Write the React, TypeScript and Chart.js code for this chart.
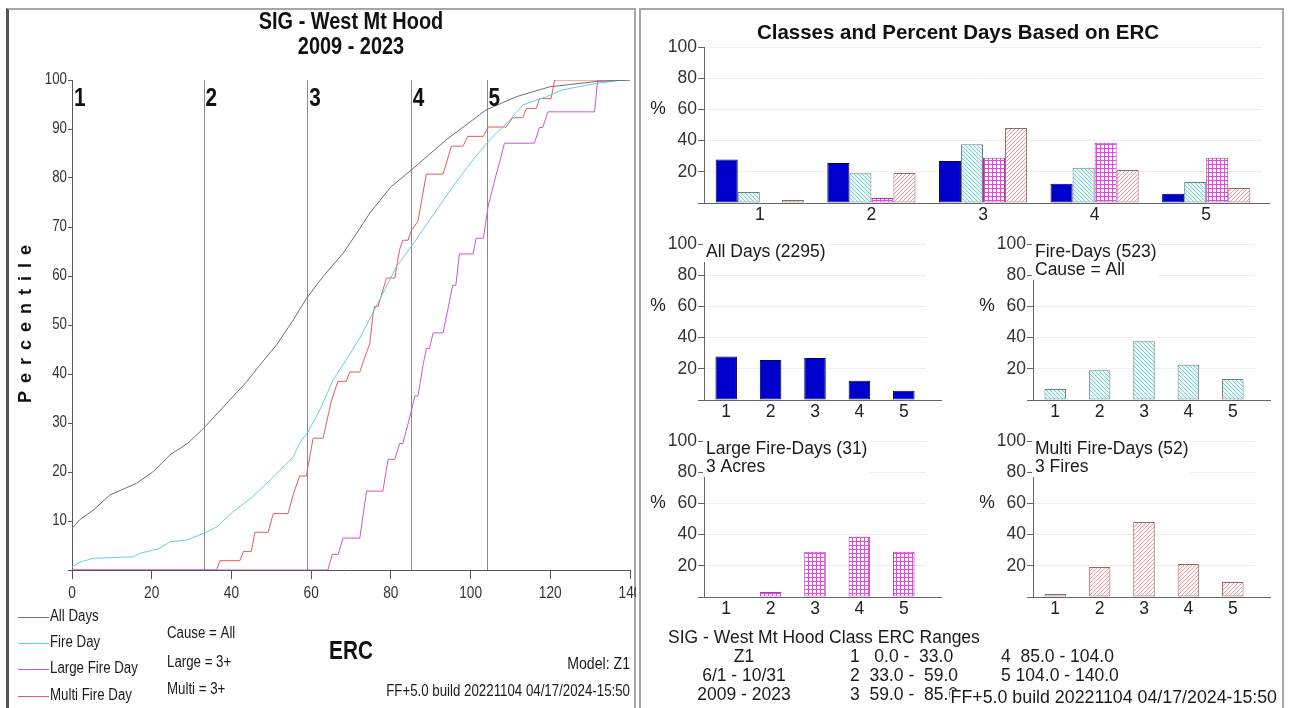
import React, { useEffect, useRef } from "react";
import { Chart, registerables } from "chart.js";

Chart.register(...registerables);

const SANS = '"Liberation Sans", Arial, Helvetica, sans-serif';
// horizontal squeeze used to get a condensed face out of the regular sans
const NARROW_SCALE = 0.83;
const RIGHT_FONT = 17.5;

// ---------- cumulative percentile of ERC ----------
const ercTicks = [0, 20, 40, 60, 80, 100, 120, 140];
const percentileTicks = [0, 10, 20, 30, 40, 50, 60, 70, 80, 90, 100];
const classBreaks = [0, 33, 59, 85, 104];
const ercMax = 140;
const classNames = ["1", "2", "3", "4", "5"];

const seriesNames = ["All Days", "Fire Day", "Large Fire Day", "Multi Fire Day"];
const seriesColors = ["#6f6f6f", "#62d2d4", "#cf52d3", "#e25c5c"];

const allDaysErc = [0, 2, 5.3, 9.5, 16.2, 20.4, 24.6, 29.1, 33, 38.8, 43.8, 47.1, 51.3, 55.5, 58.8, 63, 68, 72.2, 74.7, 80, 85.1, 93.9, 103.9, 111.5, 119.8, 131.5, 140];
const allDaysPct = [8.5, 10.3, 12.2, 15.3, 17.7, 20.1, 23.5, 25.9, 28.9, 34, 38.4, 41.8, 45.9, 51, 55.4, 59.9, 64.6, 69.7, 72.8, 78.2, 81.6, 87.8, 93.9, 96.6, 98.6, 99.7, 100];

const fireDayErc = [0, 2, 5.3, 15.4, 17, 22, 24.6, 28.7, 33.1, 36.3, 40.4, 45.4, 50.5, 55.5, 57.1, 59.2, 62.2, 65.5, 68.8, 72.2, 74.7, 81.4, 85.1, 89.7, 95.5, 100.6, 104.8, 109.8, 113.1, 119, 123.1, 131.5, 137.3, 140];
const fireDayPct = [0.6, 1.6, 2.4, 2.7, 3.4, 4.4, 5.8, 6.1, 7.5, 8.8, 11.9, 15, 19, 23.1, 25.9, 28.2, 32.7, 38.8, 42.9, 47.3, 51.2, 61.9, 66, 71.4, 78.2, 83.7, 87.8, 91.8, 94.9, 96.6, 98, 99.3, 99.9, 100];

const largeFireErc = [0, 64.2, 65.3, 66.8, 68, 72.2, 73.9, 78, 79.3, 81, 82.2, 83, 85.1, 86, 86.8, 88.1, 88.9, 89.7, 90.6, 93.1, 93.9, 94.7, 95.5, 96.3, 97.2, 100.6, 101.4, 103.2, 104.4, 106.4, 107.5, 108.5, 116, 117.3, 118.1, 119.4, 131.1, 131.9, 140];
const largeFirePct = [0, 0, 3.2, 3.2, 6.5, 6.5, 16.1, 16.1, 22.6, 22.6, 25.8, 25.8, 32.3, 35.5, 35.5, 41.9, 45.2, 45.2, 48.4, 48.4, 51.6, 54.8, 58.1, 58.1, 64.5, 64.5, 67.7, 67.7, 74.2, 80.6, 83.9, 87.1, 87.1, 90.3, 90.3, 93.5, 93.5, 100, 100];

const multiFireErc = [0, 36.3, 37.1, 42.1, 43, 45, 45.9, 49.2, 50.5, 54.2, 55.5, 57.1, 58.8, 60.5, 63, 65.1, 66.7, 68.8, 69.7, 72.2, 73, 74.7, 75.5, 75.9, 76.8, 78.9, 81, 82.2, 83, 84.3, 85.1, 86.8, 88.9, 93.1, 95.2, 98.1, 99.3, 103.2, 104.4, 108.9, 110.6, 113.1, 114, 116.5, 117.3, 120.2, 121.1, 140];
const multiFirePct = [0, 0, 1.9, 1.9, 3.8, 3.8, 7.7, 7.7, 11.5, 11.5, 15.4, 19.2, 19.2, 26.9, 26.9, 34.6, 38.5, 38.5, 40.4, 40.4, 42.3, 46.2, 51.9, 53.8, 53.8, 59.6, 59.6, 65.4, 67.3, 67.3, 69.2, 71.2, 80.8, 80.8, 86.5, 86.5, 88.5, 88.5, 90.4, 90.4, 92.3, 92.3, 94.2, 94.2, 96.2, 96.2, 100, 100];

// ---------- percent of days in each ERC class ----------
const percentTicks = [0, 20, 40, 60, 80, 100];
const pctAllDays = [27.9, 25.7, 27.0, 12.4, 6.0];
const pctFireDays = [7.1, 19.1, 37.7, 22.6, 13.4];
const pctLargeFire = [0, 3.2, 29.0, 38.7, 29.0];
const pctMultiFire = [1.9, 19.2, 48.1, 21.2, 9.6];

const panelTitles = [
  ["All Days (2295)"],
  ["Fire-Days (523)", "Cause = All"],
  ["Large Fire-Days (31)", "3 Acres"],
  ["Multi Fire-Days (52)", "3 Fires"],
];

// ---------- page layout ----------
const LEFT_BOX = { x: 0, y: 0, w: 636, h: 708 };
const LEFT_AREA = { left: 72, top: 80, right: 630, bottom: 570 };
const TOP_BOX = { x: 640, y: 0, w: 650, h: 228 };
const TOP_AREA = { left: 704, top: 47, right: 1262, bottom: 203 };
const SMALL_BOXES = [
  { x: 640, y: 228, w: 320, h: 200 },
  { x: 960, y: 228, w: 325, h: 200 },
  { x: 640, y: 425, w: 320, h: 200 },
  { x: 960, y: 425, w: 325, h: 200 },
];
const SMALL_AREAS = [
  { left: 704, top: 244, right: 926, bottom: 400 },
  { left: 1033, top: 244, right: 1255, bottom: 400 },
  { left: 704, top: 441, right: 926, bottom: 597 },
  { left: 1033, top: 441, right: 1255, bottom: 597 },
];
const NOTE_BOX = { x: 640, y: 612, w: 645, h: 96 };

type Box = { x: number; y: number; w: number; h: number };
type Area = { left: number; top: number; right: number; bottom: number };

function frame(box: Box, area: Area, xAxisH: number) {
  return {
    padding: {
      left: 0,
      top: area.top - box.y,
      right: box.x + box.w - area.right,
      bottom: box.y + box.h - area.bottom - xAxisH,
    },
    yWidth: area.left - box.x,
  };
}

function text(ctx: CanvasRenderingContext2D, str: string, x: number, y: number, font: string, align: CanvasTextAlign = "left", color = "#1a1a1a") {
  ctx.save();
  ctx.font = font;
  ctx.fillStyle = color;
  ctx.textAlign = align;
  ctx.textBaseline = "middle";
  ctx.fillText(str, x, y);
  ctx.restore();
}

// condensed text: regular sans squeezed horizontally
function ntext(ctx: CanvasRenderingContext2D, str: string, x: number, y: number, size: number, bold = false, align: CanvasTextAlign = "left", color = "#1a1a1a") {
  ctx.save();
  ctx.translate(x, y);
  ctx.scale(NARROW_SCALE, 1);
  ctx.font = `${bold ? "bold " : ""}${size}px ${SANS}`;
  ctx.fillStyle = color;
  ctx.textAlign = align;
  ctx.textBaseline = "middle";
  ctx.fillText(str, 0, 0);
  ctx.restore();
}

function hLine(ctx: CanvasRenderingContext2D, x1: number, x2: number, y: number, color: string) {
  ctx.save();
  ctx.strokeStyle = color;
  ctx.lineWidth = 1;
  ctx.beginPath();
  ctx.moveTo(x1, y);
  ctx.lineTo(x2, y);
  ctx.stroke();
  ctx.restore();
}

function makePattern(size: number, bg: string, stroke: string, kind: "back" | "fwd" | "grid") {
  const c = document.createElement("canvas");
  c.width = size;
  c.height = size;
  const g = c.getContext("2d")!;
  g.fillStyle = bg;
  g.fillRect(0, 0, size, size);
  g.strokeStyle = stroke;
  g.lineWidth = 1;
  g.beginPath();
  if (kind === "grid") {
    g.moveTo(0, 0.5);
    g.lineTo(size, 0.5);
    g.moveTo(0.5, 0);
    g.lineTo(0.5, size);
  } else if (kind === "back") {
    g.moveTo(-1, -1);
    g.lineTo(size + 1, size + 1);
    g.moveTo(-1, size - 1);
    g.lineTo(1, size + 1);
    g.moveTo(size - 1, -1);
    g.lineTo(size + 1, 1);
  } else {
    g.moveTo(-1, size + 1);
    g.lineTo(size + 1, -1);
    g.moveTo(-1, 1);
    g.lineTo(1, -1);
    g.moveTo(size - 1, size + 1);
    g.lineTo(size + 1, size - 1);
  }
  g.stroke();
  return g.createPattern(c, "repeat")!;
}

const pts = (xs: number[], ys: number[]) => xs.map((x, i) => ({ x, y: ys[i] }));

function percentileConfig(): any {
  const xAxisH = 30;
  const f = frame(LEFT_BOX, LEFT_AREA, xAxisH);
  const curves = [
    pts(allDaysErc, allDaysPct),
    pts(fireDayErc, fireDayPct),
    pts(largeFireErc, largeFirePct),
    pts(multiFireErc, multiFirePct),
  ];
  const decor = {
    id: "ercDecor",
    beforeDatasetsDraw(chart: any) {
      const ctx = chart.ctx;
      const xs = chart.scales.x;
      const ys = chart.scales.y;
      const top = ys.getPixelForValue(100);
      const bottom = ys.getPixelForValue(0);
      ctx.save();
      ctx.strokeStyle = "#8a8a8a";
      ctx.lineWidth = 1;
      classBreaks.slice(1).forEach((b) => {
        const px = Math.round(xs.getPixelForValue(b)) + 0.5;
        ctx.beginPath();
        ctx.moveTo(px, top);
        ctx.lineTo(px, bottom);
        ctx.stroke();
      });
      ctx.restore();
    },
    afterDraw(chart: any) {
      const ctx = chart.ctx;
      const xs = chart.scales.x;
      const ys = chart.scales.y;
      const ca = chart.chartArea;
      // axis tick labels
      ercTicks.forEach((v) => ntext(ctx, String(v), xs.getPixelForValue(v), ca.bottom + 23, 16.5, false, "center", "#333"));
      percentileTicks.forEach((v) => {
        if (v > 0) ntext(ctx, String(v), ca.left - 5, ys.getPixelForValue(v), 16, false, "right", "#333");
      });
      ntext(ctx, "SIG - West Mt Hood", 351, 22, 24, true, "center", "#111");
      ntext(ctx, "2009 - 2023", 351, 47, 24, true, "center", "#111");
      classBreaks.forEach((b, i) => {
        ntext(ctx, classNames[i], xs.getPixelForValue(b) + 2, ys.getPixelForValue(96), 25, true, "left", "#111");
      });
      // rotated axis title
      ctx.save();
      ctx.translate(26, 324);
      ctx.rotate(-Math.PI / 2);
      ctx.font = `bold 18px ${SANS}`;
      (ctx as any).letterSpacing = "8px";
      ctx.fillStyle = "#111";
      ctx.textAlign = "center";
      ctx.textBaseline = "middle";
      ctx.fillText("Percentile", 4, 0);
      ctx.restore();
      // legend
      const legendY = [617, 643, 669, 696];
      seriesNames.forEach((name, i) => {
        hLine(ctx, 18, 49, legendY[i] + 0.5, seriesColors[i]);
        ntext(ctx, name, 50, legendY[i], 16, false, "left", "#1a1a1a");
      });
      ntext(ctx, "Cause = All", 167, 634, 16);
      ntext(ctx, "Large = 3+", 167, 663, 16);
      ntext(ctx, "Multi = 3+", 167, 690, 16);
      ntext(ctx, "ERC", 351, 652, 25, true, "center", "#111");
      ntext(ctx, "Model: Z1", 630, 664, 17, false, "right");
      ntext(ctx, "FF+5.0 build 20221104 04/17/2024-15:50", 630, 692, 16, false, "right");
    },
  };
  return {
    type: "line",
    data: {
      datasets: curves.map((data, i) => ({
        label: seriesNames[i],
        data,
        borderColor: seriesColors[i],
        backgroundColor: seriesColors[i],
        borderWidth: 1,
        pointRadius: 0,
        tension: 0,
        fill: false,
      })),
    },
    options: {
      animation: false,
      responsive: false,
      devicePixelRatio: 1,
      layout: { padding: f.padding },
      plugins: { legend: { display: false }, tooltip: { enabled: false }, title: { display: false } },
      scales: {
        x: {
          type: "linear",
          min: 0,
          max: ercMax,
          afterBuildTicks: (s: any) => {
            s.ticks = ercTicks.map((v) => ({ value: v }));
          },
          afterFit: (s: any) => {
            s.height = xAxisH;
            s.paddingLeft = 0;
            s.paddingRight = 0;
          },
          ticks: { display: false },
          grid: { drawOnChartArea: false, tickLength: 9, color: "#555" },
          border: { color: "#555" },
        },
        y: {
          min: 0,
          max: 100,
          afterBuildTicks: (s: any) => {
            s.ticks = percentileTicks.map((v) => ({ value: v }));
          },
          afterFit: (s: any) => {
            s.width = f.yWidth;
            s.paddingTop = 0;
            s.paddingBottom = 0;
          },
          ticks: { display: false },
          grid: { drawOnChartArea: false, tickLength: 4, color: "#555" },
          border: { color: "#555" },
        },
      },
    },
    plugins: [decor],
  };
}

function barConfig(box: Box, area: Area, seriesIdx: number[], values: number[][], fills: any[], borders: string[], groupFrac: number, axisExt: number, titleLines: string[] | null, heading: string | null): any {
  const xAxisH = 24;
  const f = frame(box, area, xAxisH);
  const font = `${RIGHT_FONT}px ${SANS}`;
  const decor = {
    id: "classDecor",
    afterDraw(chart: any) {
      const ctx = chart.ctx;
      const ca = chart.chartArea;
      const ys = chart.scales.y;
      const yb = Math.round(ca.bottom - 0.5) + 0.5;
      hLine(ctx, ca.right, ca.right + axisExt, yb, "#666");
      text(ctx, "%", ca.left - 46, ys.getPixelForValue(60), font, "center", "#222");
      if (heading) text(ctx, heading, 958 - box.x, 33 - box.y, `bold 20.5px ${SANS}`, "center", "#111");
      if (titleLines) {
        ctx.save();
        ctx.font = font;
        const w = Math.max(...titleLines.map((t) => ctx.measureText(t).width));
        ctx.fillStyle = "#ffffff";
        ctx.fillRect(ca.left - 1, ca.top - 1, w + 5, titleLines.length * 18 + 1);
        ctx.restore();
        titleLines.forEach((t, i) => text(ctx, t, ca.left + 2, ca.top + 8 + i * 18, font, "left", "#1a1a1a"));
      }
    },
  };
  return {
    type: "bar",
    data: {
      labels: classNames,
      datasets: seriesIdx.map((si) => ({
        label: seriesNames[si],
        data: values[si],
        backgroundColor: fills[si],
        borderColor: borders[si],
        borderWidth: 1,
        borderSkipped: false,
        categoryPercentage: groupFrac,
        barPercentage: 1,
      })),
    },
    options: {
      animation: false,
      responsive: false,
      devicePixelRatio: 1,
      layout: { padding: f.padding },
      plugins: { legend: { display: false }, tooltip: { enabled: false }, title: { display: false } },
      scales: {
        x: {
          type: "category",
          offset: true,
          afterFit: (s: any) => {
            s.height = xAxisH;
            s.paddingLeft = 0;
            s.paddingRight = 0;
          },
          grid: { display: false, drawTicks: false, tickLength: 0 },
          border: { color: "#666" },
          ticks: { font: { family: SANS, size: RIGHT_FONT }, color: "#222", padding: 2, maxRotation: 0 },
        },
        y: {
          min: 0,
          max: 100,
          afterBuildTicks: (s: any) => {
            s.ticks = percentTicks.map((v) => ({ value: v }));
          },
          afterFit: (s: any) => {
            s.width = f.yWidth;
            s.paddingTop = 0;
            s.paddingBottom = 0;
          },
          ticks: {
            font: { family: SANS, size: RIGHT_FONT },
            color: "#333",
            padding: 1,
            callback: (v: any) => (v === 0 ? "" : String(v)),
          },
          grid: { color: "#eeeeee", tickColor: "#666", tickLength: 6 },
          border: { color: "#666" },
        },
      },
    },
    plugins: [decor],
  };
}

function drawNotes(canvas: HTMLCanvasElement) {
  const ctx = canvas.getContext("2d")!;
  ctx.clearRect(0, 0, canvas.width, canvas.height);
  ctx.save();
  ctx.translate(-NOTE_BOX.x, -NOTE_BOX.y);
  const font = `${RIGHT_FONT}px ${SANS}`;
  const ink = "#1a1a1a";
  text(ctx, "SIG - West Mt Hood Class ERC Ranges", 668, 638, font, "left", ink);
  const rows = [657, 676, 695];
  text(ctx, "Z1", 744, rows[0], font, "center", ink);
  text(ctx, "6/1 - 10/31", 744, rows[1], font, "center", ink);
  text(ctx, "2009 - 2023", 744, rows[2], font, "center", ink);
  const highs = [...classBreaks.slice(1), ercMax];
  classNames.forEach((name, i) => {
    const x = i < 3 ? 850 : 1001;
    const row = `${name} ${classBreaks[i].toFixed(1).padStart(5, " ")} - ${highs[i].toFixed(1).padStart(5, " ")}`;
    ctx.save();
    ctx.font = font;
    ctx.fillStyle = ink;
    ctx.textBaseline = "middle";
    ctx.fillText(row, x, rows[i % 3]);
    ctx.restore();
  });
  const stamp = "FF+5.0 build 20221104 04/17/2024-15:50";
  const stampFont = `17.8px ${SANS}`;
  ctx.font = stampFont;
  const sw = ctx.measureText(stamp).width;
  ctx.fillStyle = "#ffffff";
  ctx.fillRect(1277 - sw - 1, 690, sw + 2, 18);
  text(ctx, stamp, 1277, 698, stampFont, "right", ink);
  ctx.restore();
}

const abs = (b: Box): React.CSSProperties => ({ position: "absolute", left: b.x, top: b.y, width: b.w, height: b.h });

export default function App() {
  const leftRef = useRef<HTMLCanvasElement>(null);
  const topRef = useRef<HTMLCanvasElement>(null);
  const s0 = useRef<HTMLCanvasElement>(null);
  const s1 = useRef<HTMLCanvasElement>(null);
  const s2 = useRef<HTMLCanvasElement>(null);
  const s3 = useRef<HTMLCanvasElement>(null);
  const noteRef = useRef<HTMLCanvasElement>(null);
  const smallRefs = [s0, s1, s2, s3];

  useEffect(() => {
    const values = [pctAllDays, pctFireDays, pctLargeFire, pctMultiFire];
    const fills = [
      "#0000cc",
      makePattern(4, "#e6f9f9", "#86cccc", "back"),
      makePattern(4, "#ffffff", "#e04ae0", "grid"),
      makePattern(4, "#fff6f6", "#e6a0a0", "fwd"),
    ];
    const borders = ["#00005c", "#6d7f7f", "#a83aa8", "#8a6a6a"];
    const charts: Chart[] = [];
    charts.push(new Chart(leftRef.current!, percentileConfig()));
    charts.push(
      new Chart(
        topRef.current!,
        barConfig(TOP_BOX, TOP_AREA, [0, 1, 2, 3], values, fills, borders, 0.79, 8, null, "Classes and Percent Days Based on ERC")
      )
    );
    smallRefs.forEach((r, i) => {
      charts.push(new Chart(r.current!, barConfig(SMALL_BOXES[i], SMALL_AREAS[i], [i], values, fills, borders, 0.485, 16, panelTitles[i], null)));
    });
    drawNotes(noteRef.current!);
    return () => charts.forEach((c) => c.destroy());
  }, []);

  return (
    <div style={{ position: "fixed", left: 0, top: 0, width: 1290, height: 708, background: "#ffffff", overflow: "hidden" }}>
      <div
        style={{
          position: "absolute",
          left: 6,
          top: 8,
          width: 630,
          height: 720,
          boxSizing: "border-box",
          borderLeft: "3px solid #4e544e",
          borderTop: "2px solid #a6a6a6",
          borderRight: "2px solid #a6a6a6",
        }}
      />
      <div
        style={{
          position: "absolute",
          left: 639,
          top: 8,
          width: 645,
          height: 720,
          boxSizing: "border-box",
          borderLeft: "2px solid #a6a6a6",
          borderTop: "2px solid #a6a6a6",
          borderRight: "2px solid #a6a6a6",
        }}
      />
      <canvas ref={leftRef} width={LEFT_BOX.w} height={LEFT_BOX.h} style={abs(LEFT_BOX)} />
      <canvas ref={topRef} width={TOP_BOX.w} height={TOP_BOX.h} style={abs(TOP_BOX)} />
      {SMALL_BOXES.map((b, i) => (
        <canvas key={i} ref={smallRefs[i]} width={b.w} height={b.h} style={abs(b)} />
      ))}
      <canvas ref={noteRef} width={NOTE_BOX.w} height={NOTE_BOX.h} style={abs(NOTE_BOX)} />
    </div>
  );
}
